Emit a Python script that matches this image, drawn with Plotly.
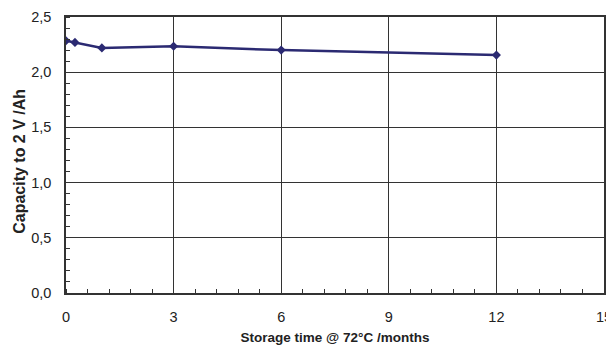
import plotly.graph_objects as go

months = [0, 0.25, 1, 3, 6, 12]
capacity = [2.285, 2.27, 2.22, 2.235, 2.20, 2.155]
x_ticks = [0, 3, 6, 9, 12, 15]
y_ticks = [0.0, 0.5, 1.0, 1.5, 2.0, 2.5]

fig = go.Figure()
fig.add_trace(go.Scatter(
    x=months, y=capacity, mode="lines+markers",
    line=dict(color="#2b2a72", width=2.5),
    marker=dict(symbol="diamond", size=7, color="#2b2a72"),
    showlegend=False,
))

axis_common = dict(
    showline=True, linecolor="#333333", linewidth=1.5, mirror=True,
    showgrid=True, gridcolor="#333333", gridwidth=1,
    zeroline=False, ticks="", automargin=False, ticklabeloverflow="allow",
    tickfont=dict(family="Liberation Sans, Arial", size=14.5, color="#222222"),
)

# page body has an 8px default margin, so the figure is sized to fit inside it
fig.update_layout(
    width=606, height=339,
    margin=dict(l=58, r=10, t=9, b=54),
    paper_bgcolor="white", plot_bgcolor="white",
    separators=",.",
    font=dict(family="Liberation Sans, Arial", color="#222222"),
    xaxis=dict(
        range=[0, 15], tickvals=x_ticks, ticktext=[str(v) for v in x_ticks],
        ticklabelstandoff=10,
        minor=dict(ticks="inside", ticklen=4, dtick=0.6, tick0=0, tickcolor="#333333", showgrid=False),
        title=dict(text="<b>Storage time @ 72°C /months</b>", font=dict(size=13.5), standoff=8),
        **axis_common,
    ),
    yaxis=dict(
        range=[0, 2.5], tickvals=y_ticks, tickformat=".1f",
        ticklabelstandoff=10,
        minor=dict(ticks="inside", ticklen=4, dtick=0.1, tick0=0, tickcolor="#333333", showgrid=False),
        **axis_common,
    ),
    annotations=[dict(
        text="<b>Capacity to 2 V /Ah</b>", textangle=-90,
        xref="paper", yref="paper", x=-0.087, y=0.476,
        xanchor="center", yanchor="middle", showarrow=False,
        font=dict(size=16, color="#222222"),
    )],
)

fig.write_html("out.html")
